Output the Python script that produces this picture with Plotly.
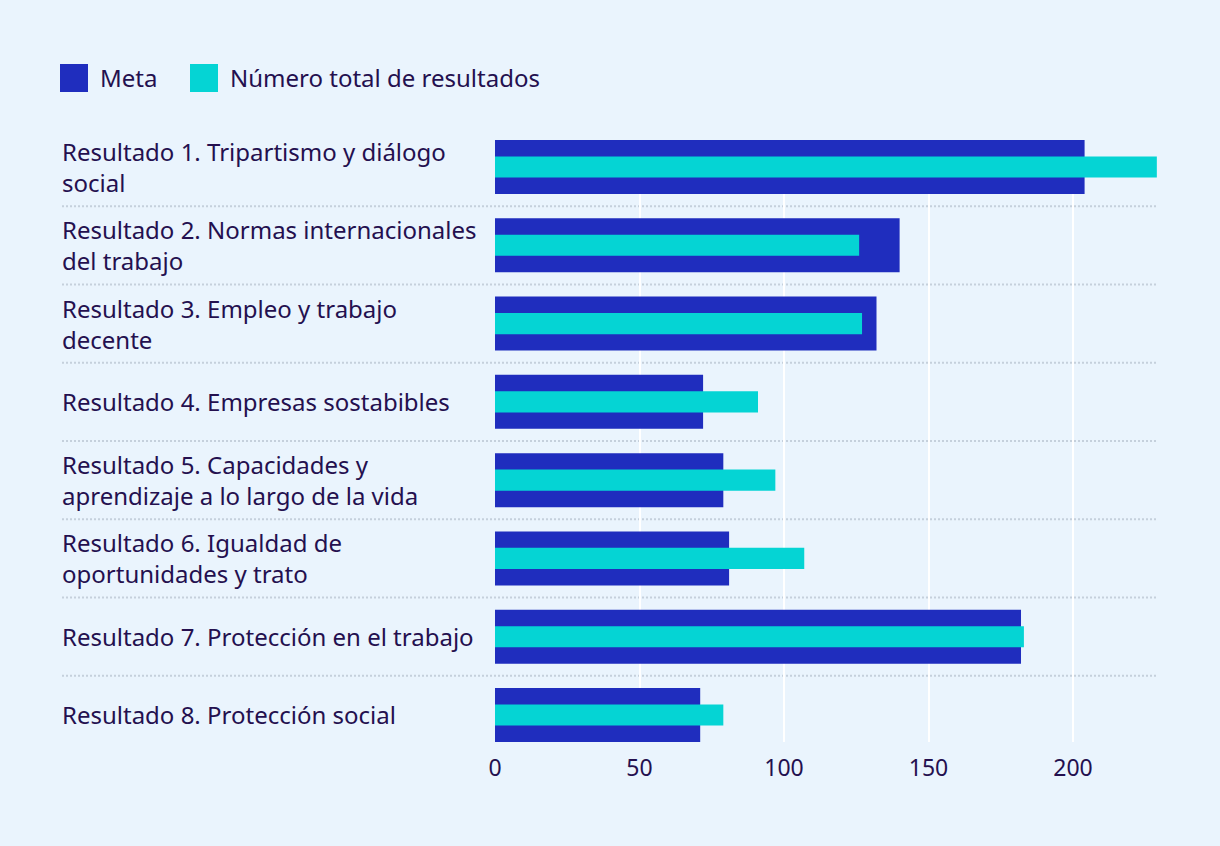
import plotly.graph_objects as go

# ---------------- data ----------------
categories = [
    "Resultado 1. Tripartismo y diálogo<br>social",
    "Resultado 2. Normas internacionales<br>del trabajo",
    "Resultado 3. Empleo y trabajo<br>decente",
    "Resultado 4. Empresas sostabibles",
    "Resultado 5. Capacidades y<br>aprendizaje a lo largo de la vida",
    "Resultado 6. Igualdad de<br>oportunidades y trato",
    "Resultado 7. Protección en el trabajo",
    "Resultado 8. Protección social",
]
meta = [204, 140, 132, 72, 79, 81, 182, 71]
total_resultados = [229, 126, 127, 91, 97, 107, 183, 79]
series_names = ["Meta", "Número total de resultados"]
x_ticks = [0, 50, 100, 150, 200]

# ---------------- style ----------------
W, H = 1220, 846
ML, MR, MT, MB = 495, 62, 140, 104
BG = "#EAF4FD"
C_META = "#1F2DBE"
C_TOTAL = "#05D4D4"
TXT = "#24104F"
FONT = "Noto Sans"
FS = 24
FS_TICK = 23

plot_w = W - ML - MR
plot_h = H - MT - MB


def px_x(px):
    return (px - ML) / plot_w


def px_y(py):
    return (H - MB - py) / plot_h


cat_idx = list(range(len(categories)))

fig = go.Figure()
fig.add_trace(go.Bar(
    y=cat_idx, x=meta, orientation="h", name=series_names[0],
    marker=dict(color=C_META, line=dict(width=0)), width=0.69,
    showlegend=False, hoverinfo="x+name",
))
fig.add_trace(go.Bar(
    y=cat_idx, x=total_resultados, orientation="h", name=series_names[1],
    marker=dict(color=C_TOTAL, line=dict(width=0)), width=0.27,
    showlegend=False, hoverinfo="x+name",
))

shapes = []
annotations = []
label_x = px_x(60)

# row separators (dotted)
for i in range(len(categories) - 1):
    shapes.append(dict(
        type="line", xref="paper", yref="y", x0=px_x(62), x1=1,
        y0=i + 0.5, y1=i + 0.5, layer="below",
        line=dict(color="#C5D0DC", width=2, dash="2px,2px"),
    ))

# category labels
for i, c in enumerate(categories):
    annotations.append(dict(
        xref="paper", yref="y", x=label_x, y=i, text=c,
        xanchor="left", yanchor="middle", align="left", showarrow=False,
        font=dict(family=FONT, size=FS, color=TXT),
    ))

# custom legend
legend_items = [(60, 98, C_META, series_names[0]), (190, 228, C_TOTAL, series_names[1])]
for sx, tx, col, name in legend_items:
    shapes.append(dict(
        type="rect", xref="paper", yref="paper",
        x0=px_x(sx), x1=px_x(sx + 28), y0=px_y(92), y1=px_y(64),
        fillcolor=col, line=dict(width=0),
    ))
    annotations.append(dict(
        xref="paper", yref="paper", x=px_x(tx), y=px_y(77), text=name,
        xanchor="left", yanchor="middle", showarrow=False,
        font=dict(family=FONT, size=FS, color=TXT),
    ))

n = len(categories)
fig.update_layout(
    width=W, height=H,
    margin=dict(l=ML, r=MR, t=MT, b=MB, pad=0),
    paper_bgcolor=BG, plot_bgcolor=BG,
    barmode="overlay",
    font=dict(family=FONT, size=FS, color=TXT),
    showlegend=False,
    shapes=shapes,
    annotations=annotations,
    xaxis=dict(
        range=[0, 229.4], tickvals=x_ticks, ticktext=[str(v) for v in x_ticks],
        showgrid=True, gridcolor="white", gridwidth=2,
        zeroline=False, showline=False, ticks="",
        tickfont=dict(family=FONT, size=FS_TICK, color=TXT),
        ticklabelstandoff=10,
        fixedrange=True,
    ),
    yaxis=dict(
        range=[n - 1 + 0.345, -0.345], showticklabels=False,
        showgrid=False, zeroline=False, showline=False, ticks="",
        fixedrange=True,
    ),
)

fig.write_html(
    "out.html",
    config=dict(displayModeBar=False),
    post_script="document.body.style.margin='0px';document.body.style.background='#EAF4FD';",
)
